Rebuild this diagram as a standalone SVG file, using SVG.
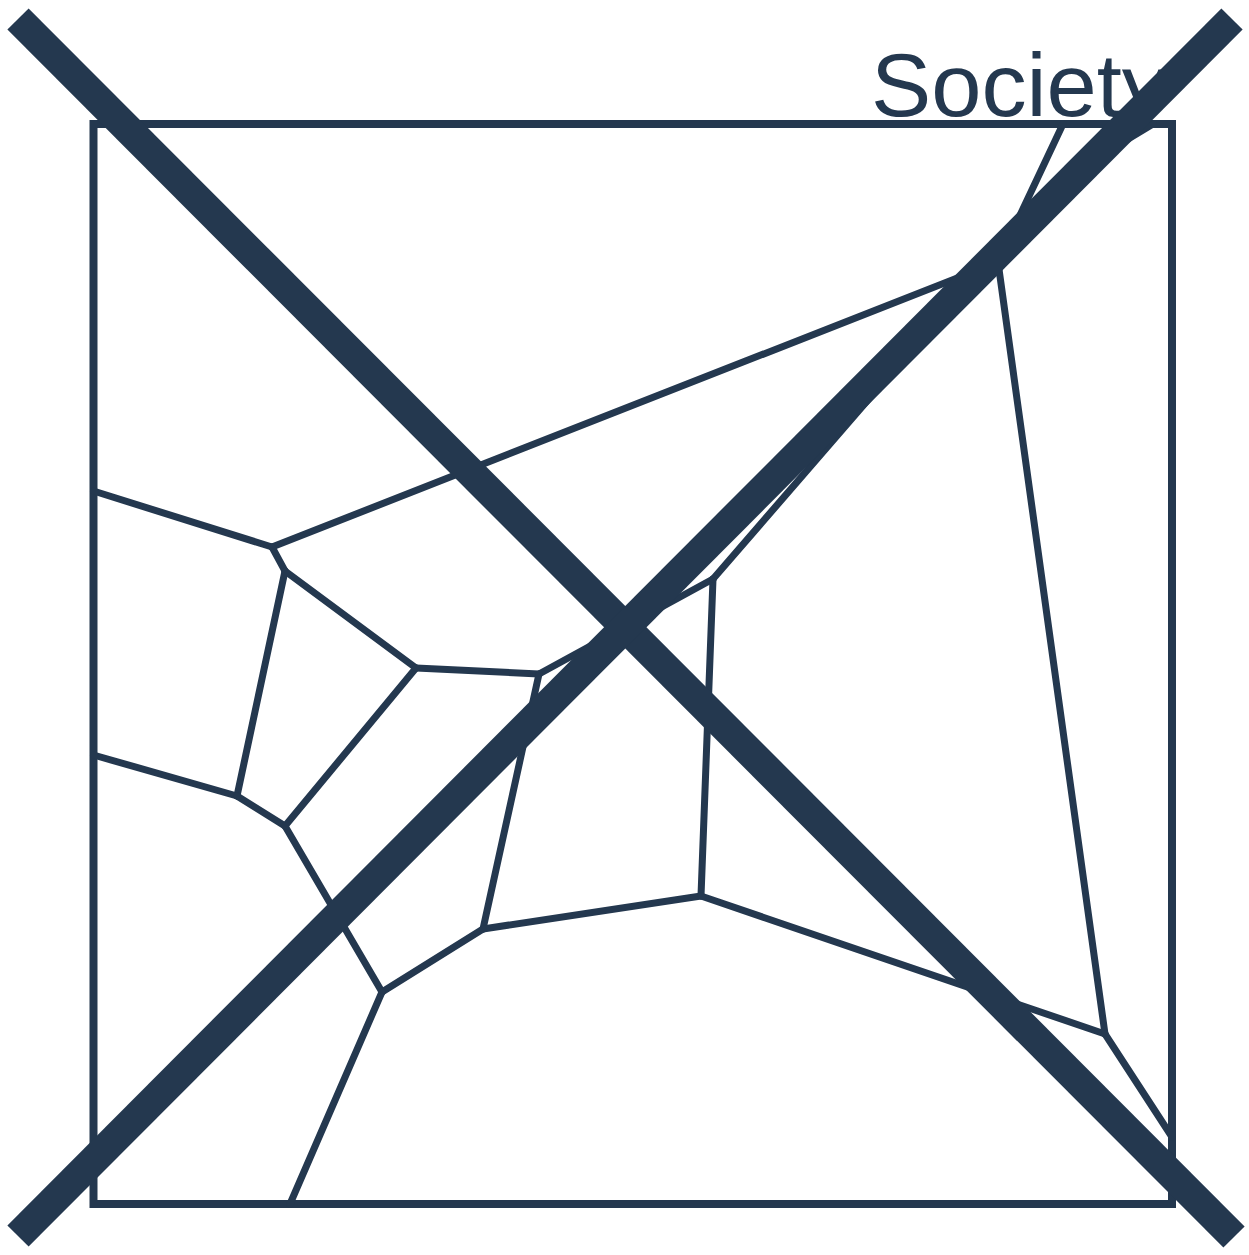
<svg xmlns="http://www.w3.org/2000/svg" width="1249" height="1255" viewBox="0 0 1249 1255">
  <style>
    .frame { fill: none; stroke: #24384f; stroke-width: 8; }
    .edge { fill: none; stroke: #24384f; stroke-width: 7; stroke-linecap: round; stroke-linejoin: round; }
    .cross { fill: none; stroke: #24384f; stroke-width: 30; stroke-linecap: butt; }
    .label { font-family: "Liberation Sans", Arial, sans-serif; font-size: 89px; fill: #24384f; }
  </style>
  <rect id="background" x="0" y="0" width="1249" height="1255" fill="#ffffff"/>
  <g id="title">
    <text class="label" x="871" y="116" textLength="296" lengthAdjust="spacingAndGlyphs">Society</text>
  </g>
  <g id="frame">
    <rect class="frame" x="93.5" y="124" width="1078.5" height="1080"/>
  </g>
  <g id="cells">
    <line class="edge" x1="93.5" y1="491" x2="272" y2="547"/>
    <line class="edge" x1="272" y1="547" x2="998" y2="262"/>
    <line class="edge" x1="272" y1="547" x2="285" y2="571"/>
    <line class="edge" x1="285" y1="571" x2="237" y2="796"/>
    <line class="edge" x1="285" y1="571" x2="416" y2="668"/>
    <line class="edge" x1="237" y1="796" x2="93.5" y2="755"/>
    <line class="edge" x1="237" y1="796" x2="285" y2="826"/>
    <line class="edge" x1="416" y1="668" x2="285" y2="826"/>
    <line class="edge" x1="416" y1="668" x2="539" y2="674"/>
    <line class="edge" x1="539" y1="674" x2="713" y2="579"/>
    <line class="edge" x1="539" y1="674" x2="483" y2="929"/>
    <line class="edge" x1="713" y1="579" x2="701" y2="896"/>
    <line class="edge" x1="713" y1="579" x2="984" y2="266"/>
    <line class="edge" x1="483" y1="929" x2="701" y2="896"/>
    <line class="edge" x1="483" y1="929" x2="382" y2="992"/>
    <line class="edge" x1="285" y1="826" x2="382" y2="992"/>
    <line class="edge" x1="382" y1="992" x2="290" y2="1204"/>
    <line class="edge" x1="701" y1="896" x2="1105" y2="1034"/>
    <line class="edge" x1="1105" y1="1034" x2="998" y2="262"/>
    <line class="edge" x1="1105" y1="1034" x2="1172" y2="1137"/>
    <line class="edge" x1="998" y1="262" x2="1063" y2="124"/>
    <line class="edge" x1="1153" y1="124" x2="1085" y2="165"/>
  </g>
  <g id="cross">
    <line class="cross" x1="18" y1="19" x2="1234" y2="1237"/>
    <line class="cross" x1="18" y1="1236" x2="1232" y2="19"/>
  </g>
</svg>
